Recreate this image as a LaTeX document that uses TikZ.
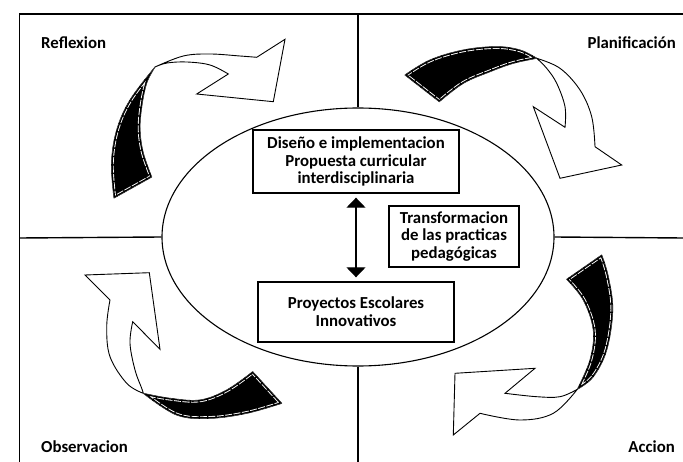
\documentclass[tikz,border=0pt]{standalone}
\usepackage{fontspec}
\setmainfont{Carlito}
\usetikzlibrary{arrows.meta,shapes.geometric}
\begin{document}
\begin{tikzpicture}[x=1pt,y=-1pt,
  frame/.style={line width=1.4pt},
  boxnode/.style={draw, line width=1.4pt, inner sep=0pt, align=center,
    font=\bfseries\fontsize{16.8}{17.7}\selectfont},
  lbl/.style={inner sep=0pt, font=\bfseries\fontsize{16.8}{17.7}\selectfont},
  blackpart/.style={fill=black, draw=black, line width=0.8pt, line join=round},
  whiteline/.style={draw=white, line width=4.4pt, dash pattern=on 7pt off 1.5pt},
  blackedge/.style={draw=black, line width=2.6pt},
  whitepart/.style={fill=white, draw=black, line width=0.9pt, line join=miter},
  sm/.style={smooth, tension=0.6}]
\useasboundingbox (0,0) rectangle (683,462);

% ellipse and cross
\node[draw, ellipse, line width=1.1pt, minimum width=392pt, minimum height=258pt, inner sep=0pt] (ell) at (358,237) {};
\coordinate (tl) at (19.6,14);
\coordinate (tr) at (683,14);
\coordinate (bl) at (19.6,462);
\coordinate (lm) at (19.6,238);
\coordinate (rm) at (683,238);
\coordinate (tm) at (358,14);
\coordinate (bm) at (358,462);
\draw[frame] (tr) -- (tl) -- (bl);
\draw[frame] (lm) -- (ell.west);
\draw[frame] (ell.east) -- (rm);
\draw[frame] (tm) -- (ell.north);
\draw[frame] (ell.south) -- (bm);

% boxes
\node[boxnode, minimum width=206pt, minimum height=63pt] (dis) at (356,161.5)
  {Diseño e implementacion\\Propuesta curricular\\interdisciplinaria};
\node[boxnode, minimum width=130pt, minimum height=61pt] (tra) at (454,236.5)
  {Transformacion\\de las practicas\\pedagógicas};
\node[boxnode, minimum width=196pt, minimum height=60pt] (pro) at (356,312)
  {Proyectos Escolares\\Innovativos};
\draw[line width=1.3pt, {Triangle[width=19pt,length=10pt]}-{Triangle[width=19pt,length=10pt]},
  shorten <=4pt, shorten >=4pt] (dis.south) -- (pro.north);

% labels
\node[lbl, anchor=base west] (refl) at (41,49) {Reflexion};
\node[lbl, anchor=base east] (plan) at (676,49) {Planificación};
\node[lbl, anchor=base west] (obs) at (41,452) {Observacion};
\node[lbl, anchor=base east] (acc) at (675,452) {Accion};

% black ribbon paths
\def\pathTL{plot[sm] coordinates {(114,198) (111.5,163) (116.7,130) (130,100) (155,67)}
  -- plot[sm] coordinates {(155,67) (146.7,83) (141.7,107) (140,130) (143.3,153) (151.7,177)} -- cycle}
\def\pathTR{plot[sm] coordinates {(405,75) (430,60) (463.3,50) (496.7,46.7) (520,50) (536.7,58.3)}
  -- plot[sm] coordinates {(536.7,58.3) (513.3,63.3) (490,71.7) (463.3,83.3) (439.3,101.7)} -- cycle}
\def\pathBR{plot[sm] coordinates {(601.7,255) (608.3,276.7) (612.7,310) (606.7,350) (593.3,376.7) (577.3,389.3)}
  -- plot[sm] coordinates {(577.3,389.3) (590,360) (593.3,330) (583.3,300) (566.7,279.3)} -- cycle}
\def\pathBL{plot[sm] coordinates {(281.7,403.3) (246.7,413.3) (210,418.3) (176.7,415) (143.3,393.3)}
  -- plot[sm] coordinates {(143.3,393.3) (170,398.3) (200,400) (226.7,390) (252.7,371.7)} -- cycle}

% top-left arrow
\filldraw[whitepart] (256.7,57.3) -- plot[sm] coordinates {(256.7,57.3) (240,56) (210,54) (183.3,56) (155,67)}
  -- plot[sm] coordinates {(155,67) (167,63) (187,62) (210,65) (228.3,74)}
  -- (196.7,94) -- (273.3,101.7) -- (285,39.3) -- cycle;
\filldraw[blackpart] \pathTL;
\begin{scope}\clip \pathTL; \draw[whiteline] \pathTL; \draw[blackedge] \pathTL; \end{scope}

% top-right arrow
\filldraw[whitepart] (595,146.7) -- plot[sm] coordinates {(595,146.7) (591.7,116.7) (580,90) (560,68.3) (536.7,58.3)}
  -- plot[sm] coordinates {(536.7,58.3) (546.7,68.3) (556.7,83.3) (565,106.7) (565,127.3)}
  -- (533.3,106.7) -- (560,178.3) -- (621.7,165) -- cycle;
\filldraw[blackpart] \pathTR;
\begin{scope}\clip \pathTR; \draw[whiteline] \pathTR; \draw[blackedge] \pathTR; \end{scope}

% bottom-right arrow
\filldraw[whitepart] (480,413.3) -- plot[sm] coordinates {(480,413.3) (520,420) (553.3,413.3) (577.3,389.3)}
  -- plot[sm] coordinates {(577.3,389.3) (560,396.7) (536.7,396.7) (505,393.3)}
  -- (535,368.3) -- (455,373.3) -- (453.3,435) -- cycle;
\filldraw[blackpart] \pathBR;
\begin{scope}\clip \pathBR; \draw[whiteline] \pathBR; \draw[blackedge] \pathBR; \end{scope}

% bottom-left arrow
\filldraw[whitepart] (110,300) -- plot[sm] coordinates {(110,300) (106.7,326.7) (110,356.7) (126.7,383.3) (143.3,393.3)}
  -- plot[sm] coordinates {(143.3,393.3) (141.7,388.3) (135,370) (130,343.3) (132.7,321.7)}
  -- (160,349.3) -- (149.3,272.7) -- (85,275) -- cycle;
\filldraw[blackpart] \pathBL;
\begin{scope}\clip \pathBL; \draw[whiteline] \pathBL; \draw[blackedge] \pathBL; \end{scope}
\end{tikzpicture}
\end{document}
